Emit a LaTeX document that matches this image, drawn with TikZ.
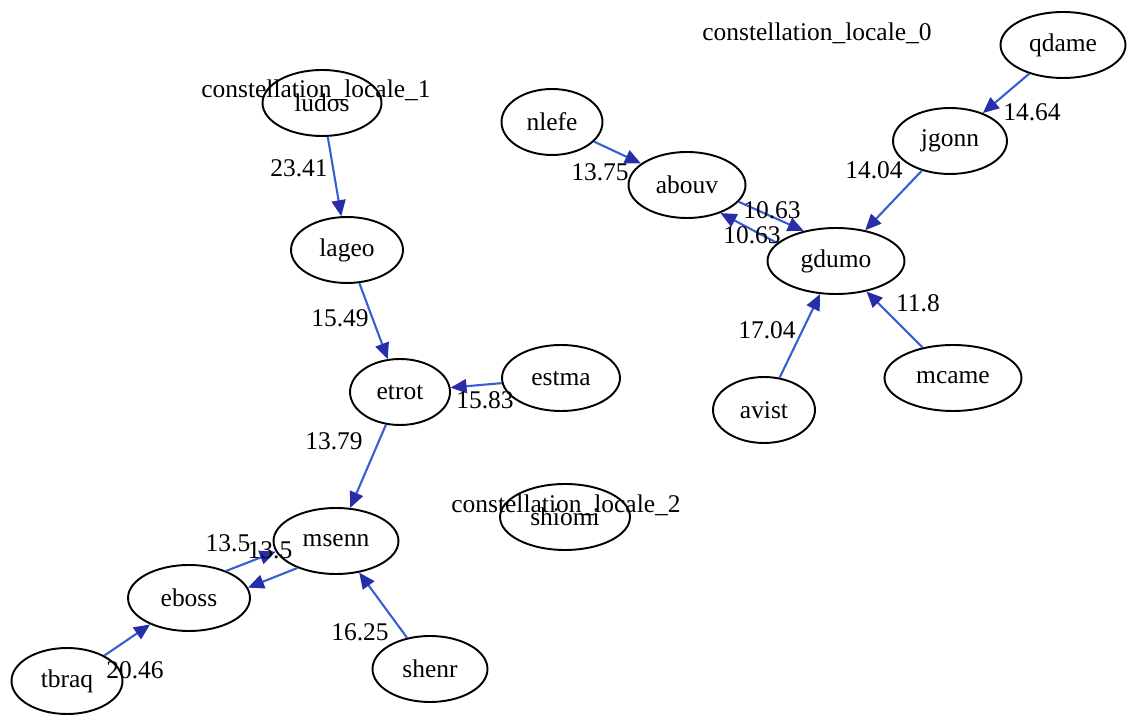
\documentclass[tikz,border=0pt]{standalone}
\usepackage{fontspec}
\setmainfont{Liberation Serif}
\usetikzlibrary{arrows.meta,shapes.geometric}
\definecolor{linkblue}{RGB}{55,95,210}
\definecolor{tipblue}{RGB}{40,45,170}
\tikzset{
  agent/.style={ellipse,draw=black,line width=1.1pt,inner sep=0pt,
    minimum height=1.32cm,minimum width=#1,font=\fontsize{14.5}{16}\selectfont},
  agent/.default=2.3cm,
  link/.style={draw=linkblue,line width=1.2pt,
    -{Triangle[length=0.32cm,width=0.28cm,color=tipblue]}},
  weight/.style={font=\fontsize{14.5}{16}\selectfont,inner sep=0pt},
  cluster/.style={font=\fontsize{14.5}{16}\selectfont,inner sep=0pt}
}
\begin{document}
\begin{tikzpicture}[x=0.02cm,y=-0.02cm]
\useasboundingbox (0,0) rectangle (1130,715);
% constellation 1
\node[agent=2.38cm] (ludos) at (322,103) {ludos};
\node[agent=2.24cm] (lageo) at (347,250) {lageo};
\node[agent=2.0cm] (etrot) at (400,392) {etrot};
\node[agent=2.36cm] (estma) at (561,378) {estma};
\node[agent=2.5cm] (msenn) at (336,541) {msenn};
\node[agent=2.44cm] (eboss) at (189,598) {eboss};
\node[agent=2.3cm] (shenr) at (430,669) {shenr};
\node[agent=2.22cm] (tbraq) at (67,681) {tbraq};
% constellation 2
\node[agent=2.6cm] (shiomi) at (565,517) {shiomi};
% constellation 0
\node[agent=2.02cm] (nlefe) at (552,122) {nlefe};
\node[agent=2.34cm] (abouv) at (687,185) {abouv};
\node[agent=2.74cm] (gdumo) at (836,261) {gdumo};
\node[agent=2.28cm] (jgonn) at (950,141) {jgonn};
\node[agent=2.5cm] (qdame) at (1063,45) {qdame};
\node[agent=2.04cm] (avist) at (764,410) {avist};
\node[agent=2.74cm] (mcame) at (953,378) {mcame};
% cluster titles
\node[cluster] (title1) at (316,90) {constellation\_locale\_1};
\node[cluster] (title0) at (817,33) {constellation\_locale\_0};
\node[cluster] (title2) at (566,505) {constellation\_locale\_2};
% links
\foreach \a/\b in {ludos/lageo,lageo/etrot,estma/etrot,etrot/msenn,
    shenr/msenn,tbraq/eboss,eboss.36/msenn.190,msenn.215/eboss.10,
    nlefe/abouv,abouv.-18/gdumo.137,gdumo.163/abouv.-40,qdame/jgonn,
    jgonn/gdumo,avist/gdumo,mcame/gdumo}
    \draw[link] (\a) -- (\b);
% weights
\node[weight] (w1) at (299,168) {23.41};
\node[weight] (w2) at (340,318) {15.49};
\node[weight] (w3) at (485,400) {15.83};
\node[weight] (w4) at (334,441) {13.79};
\node[weight] (w5) at (228,543) {13.5};
\node[weight] (w6) at (270,550) {13.5};
\node[weight] (w7) at (360,632) {16.25};
\node[weight] (w8) at (135,670) {20.46};
\node[weight] (w9) at (600,172) {13.75};
\node[weight] (w10) at (772,210) {10.63};
\node[weight] (w11) at (752,235) {10.63};
\node[weight] (w12) at (874,170) {14.04};
\node[weight] (w13) at (1032,112) {14.64};
\node[weight] (w14) at (767,330) {17.04};
\node[weight] (w15) at (918,303) {11.8};
\end{tikzpicture}
\end{document}
